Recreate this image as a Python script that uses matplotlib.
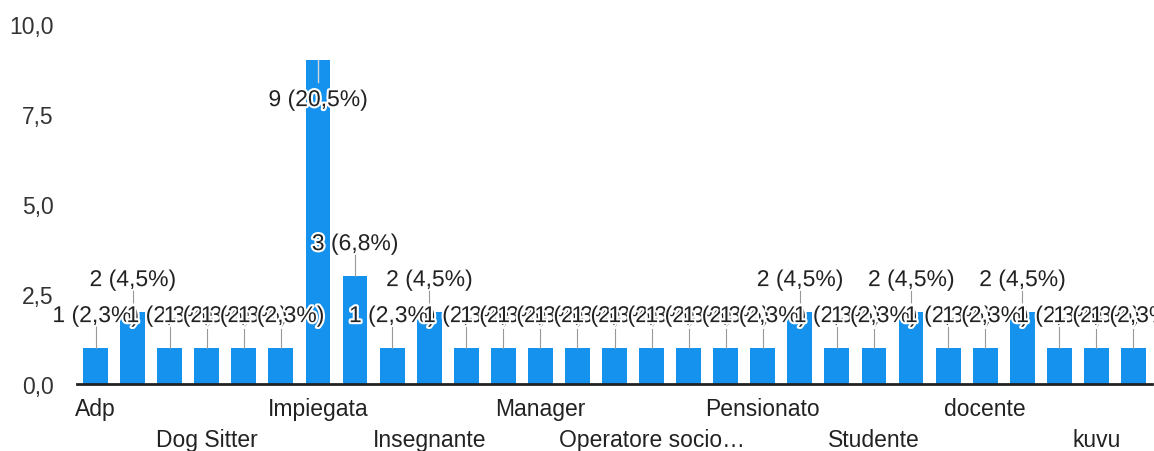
import matplotlib
matplotlib.use("Agg")
import matplotlib.pyplot as plt
import matplotlib.patheffects as pe
from matplotlib.transforms import blended_transform_factory

plt.rcParams['font.family'] = ['Liberation Sans', 'DejaVu Sans']

categories = ["Adp", "Architetto", "Avvocato", "Dog Sitter", "Educatrice", "Farmacista",
              "Impiegata", "Impiegato", "Infermiera", "Insegnante", "Libero professionista",
              "Logopedista", "Manager", "Medico", "Operaio", "Operatore socio…", "Ostetrica",
              "Parrucchiera", "Pensionato", "Psicologa", "Segretaria", "Studente",
              "Studentessa", "commessa", "docente", "educatore", "imprenditore", "kuvu",
              "ricercatore"]
counts = [1, 2, 1, 1, 1, 1, 9, 3, 1, 2, 1, 1, 1, 1, 1, 1, 1, 1, 1, 2, 1, 1, 2, 1, 1, 2, 1, 1, 1]
yticks = [0, 2.5, 5, 7.5, 10]
ytick_labels = ["0,0", "2,5", "5,0", "7,5", "10,0"]

total = sum(counts)
blue = "#1592ee"
fs = 16.5

fig = plt.figure(figsize=(11.54, 4.52), dpi=100)
ax = fig.add_axes([77/1154, 1 - 385/452, 1075/1154, 360/452])

x = list(range(len(counts)))
ax.bar(x, counts, width=0.67, color=blue, zorder=2)
ax.set_xlim(-0.5, len(counts) - 0.5)
ax.set_ylim(0, 10)

for s in ["top", "right", "left"]:
    ax.spines[s].set_visible(False)
ax.spines["bottom"].set_linewidth(2)
ax.spines["bottom"].set_color("#222222")
ax.spines["bottom"].set_zorder(3)

ax.set_yticks(yticks)
ax.set_yticklabels(ytick_labels, fontsize=fs, color="#333333")
ax.tick_params(axis="y", length=0, pad=17)
ax.set_xticks([])

# value labels with leader lines
halo = [pe.withStroke(linewidth=3, foreground="white")]
for i, v in enumerate(counts):
    pct = 100 * v / total
    txt = f"{v} ({pct:.1f}%)".replace(".", ",")
    if v >= 9:
        ax.plot([i, i], [v, v - 0.6], color="#cfd8e0", lw=1, zorder=3)
        ax.text(i, v - 1.1, txt, ha="center", va="center", fontsize=fs,
                color="#222222", path_effects=halo, zorder=4)
    else:
        ax.plot([i, i], [v, v + 0.6], color="#999999", lw=0.8, zorder=3)
        ax.text(i, v + 0.9, txt, ha="center", va="center", fontsize=fs,
                color="#222222", path_effects=halo, zorder=4, clip_on=False)

# category labels, every third, on two rows
trans = blended_transform_factory(ax.transData, fig.transFigure)
for k, i in enumerate(range(0, len(categories), 3)):
    ypos = 1 - 410/452 if k % 2 == 0 else 1 - 441/452
    ax.text(i, ypos, categories[i], transform=trans, ha="center", va="center",
            fontsize=fs, color="#222222")

fig.savefig("out.png", dpi=100)
